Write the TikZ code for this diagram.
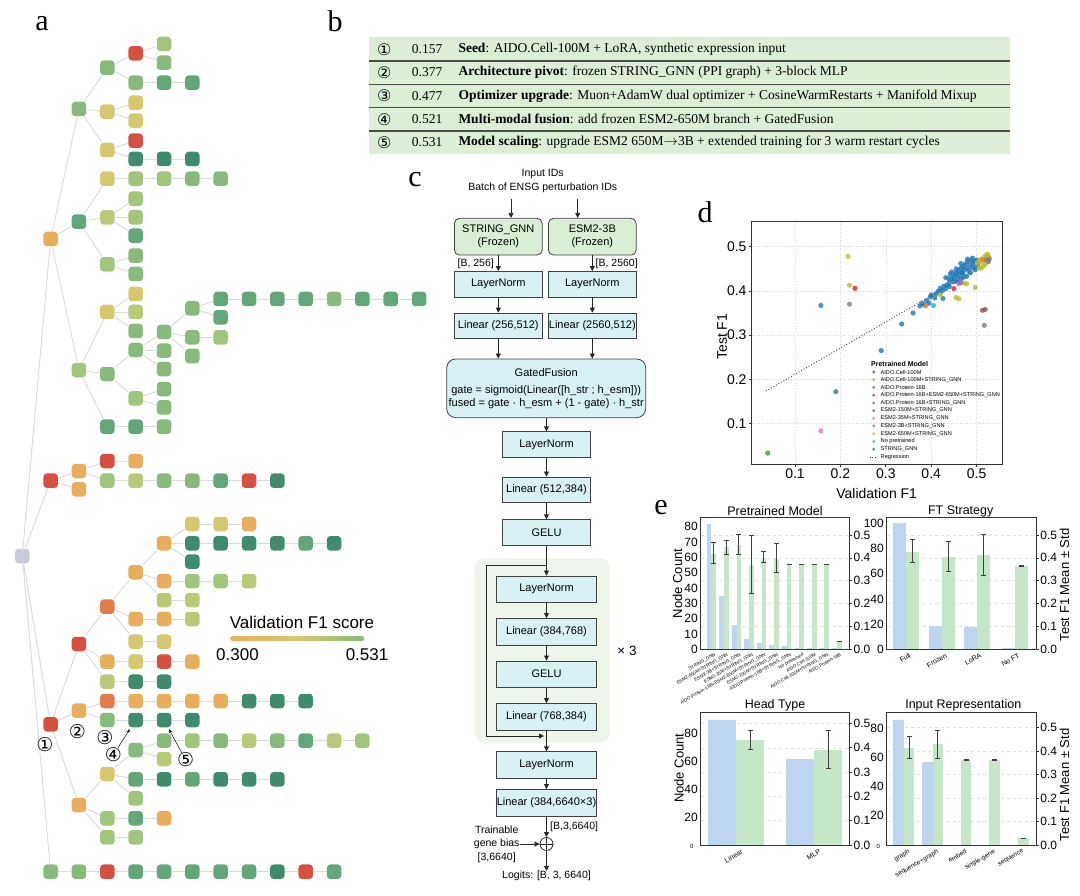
\documentclass[tikz,border=0pt]{standalone}
\usepackage{fontspec}
\setmainfont{Liberation Sans}
\newfontfamily\serifft{Liberation Serif}
\newfontfamily\cnum{DejaVu Sans}
\usetikzlibrary{arrows.meta,positioning}

% tree colours (validation F1 scale)
\definecolor{tR}{HTML}{D5503F}
\definecolor{tO}{HTML}{E07D4B}
\definecolor{tA}{HTML}{E8AE5C}
\definecolor{tY}{HTML}{D6C86E}
\definecolor{tV}{HTML}{B8C978}
\definecolor{tL}{HTML}{A0C67C}
\definecolor{tG}{HTML}{86BB7C}
\definecolor{tM}{HTML}{62A777}
\definecolor{tD}{HTML}{3E8C6D}
\definecolor{rootgray}{HTML}{C9CBDA}
\definecolor{edgegray}{HTML}{D9D9DF}
% panel colours
\definecolor{tablegreen}{HTML}{DCEFD5}
\definecolor{boxcyan}{HTML}{D8F1F4}
\definecolor{boxgreen}{HTML}{D8EFD3}
\definecolor{blockgreen}{HTML}{EDF6E9}
\definecolor{barblue}{HTML}{BDD5EE}
\definecolor{bargreen}{HTML}{C6E6C8}
% scatter colours
\definecolor{tabblue}{HTML}{1F77B4}
\definecolor{taborange}{HTML}{FF7F0E}
\definecolor{tabgreen}{HTML}{2CA02C}
\definecolor{tabred}{HTML}{D62728}
\definecolor{tabpurple}{HTML}{9467BD}
\definecolor{tabbrown}{HTML}{8C564B}
\definecolor{tabpink}{HTML}{E377C2}
\definecolor{tabgray}{HTML}{7F7F7F}
\definecolor{tabolive}{HTML}{BCBD22}
\definecolor{tabcyan}{HTML}{17BECF}

\pgfdeclarehorizontalshading{fonebar}{100bp}{color(0bp)=(tR); color(25bp)=(tA); color(50bp)=(tY); color(75bp)=(tG); color(100bp)=(tD)}

\tikzset{
tn/.style={rectangle, rounded corners=3.5pt, minimum size=14.5pt, inner sep=0pt}, % tree node
te/.style={draw=edgegray, line width=0.9pt}, % tree edge
fc/.style={draw=black!75, line width=0.8pt, fill=boxcyan, minimum width=87.7pt, minimum height=25.5pt, inner sep=0pt, font=\fontsize{11}{13}\selectfont}, % flow box
fcw/.style={fc, minimum width=99.7pt, minimum height=26.5pt}, % wide flow box
fcg/.style={fc, fill=boxgreen, rounded corners=5pt, minimum height=36.7pt, align=center}, % frozen encoder
arr/.style={-{Triangle[length=5pt,width=5pt]}, line width=0.8pt, black!85},
lab/.style={font=\fontsize{10.5}{13}\selectfont},
frm/.style={draw=black!80, line width=0.9pt},
grd/.style={draw=black!12, line width=0.5pt, dashed},
errb/.style={draw=black!75, line width=1pt},
tick/.style={font=\fontsize{12}{13}\selectfont, inner sep=1pt},
ttl/.style={font=\fontsize{12.5}{14}\selectfont},
axl/.style={font=\fontsize{13}{14}\selectfont, rotate=90},
pnl/.style={font=\serifft\fontsize{30}{30}\selectfont},
}

% tree node: name, parent, depth, y, colour
\newcommand{\tn}[5]{\node[tn, fill=#5] (#1) at ({22.3+28.34*#3},#4) {};
  \draw[te] (#2) -- (#1);}
% chain of tree nodes: name, parent, depth, y, colours
\newcommand{\tch}[5]{\foreach \tc [count=\ti from 0] in {#5}{%
  \node[tn, fill=\tc] (#1-\ti) at ({22.3+28.34*(#3+\ti)},#4) {};
  \ifnum\ti=0\relax \draw[te] (#2) -- (#1-0);
  \else \pgfmathtruncatemacro\tj{\ti-1}\draw[te] (#1-\tj) -- (#1-\ti); \fi}}
% error bar: x, base y, scale, low, high
\newcommand{\eb}[5]{\draw[errb] (#1,{#2-#3*#4}) -- (#1,{#2-#3*#5})
  ({#1-2.5},{#2-#3*#4}) -- ({#1+2.5},{#2-#3*#4}) ({#1-2.5},{#2-#3*#5}) -- ({#1+2.5},{#2-#3*#5});}

\begin{document}
\begin{tikzpicture}[x=1pt, y=-1pt]
\useasboundingbox (0,0) rectangle (1080,896);
\fill[white] (0,0) rectangle (1080,896);

% panel labels
\node[pnl] (la) at (42,24) {a};
\node[pnl] (lb) at (335,21) {b};
\node[pnl] (lc) at (415,180) {c};
\node[pnl] (ld) at (705,212) {d};
\node[pnl] (le) at (661,508) {e};

% ---------- a: search tree ----------
\node[tn, fill=rootgray] (root) at (22.3,556) {};
\tn{a}{root}{1}{239}{tA}
\tn{a1}{a}{2}{109}{tG}
\tn{a1a}{a1}{3}{67.7}{tG}
\tn{a1a1}{a1a}{4}{53.3}{tR}
\tch{a1a1x}{a1a1}{5}{44}{tL}
\tch{a1a1y}{a1a1}{5}{62.7}{tG}
\tch{a1a2}{a1a}{4}{82.7}{tG,tM,tM}
\tn{a1b}{a1}{3}{111.7}{tY}
\tch{a1b1}{a1b}{4}{102.7}{tY}
\tch{a1b2}{a1b}{4}{120.7}{tY}
\tn{a1c}{a1}{3}{150}{tY}
\tch{a1c1}{a1c}{4}{140.7}{tR}
\tch{a1c2}{a1c}{4}{159}{tD,tD,tD}
\tn{a2}{a}{2}{221.7}{tM}
\tch{a2a}{a2}{3}{178.7}{tY,tL,tL,tG,tG}
\tn{a2b}{a2}{3}{217.3}{tV}
\tch{a2b1}{a2b}{4}{198.7}{tL}
\tch{a2b2}{a2b}{4}{217.3}{tL}
\tch{a2b3}{a2b}{4}{235.7}{tM}
\tn{a2c}{a2}{3}{264.3}{tL}
\tch{a2c1}{a2c}{4}{255.7}{tG}
\tch{a2c2}{a2c}{4}{274}{tG}
\tn{a3}{a}{2}{370}{tL}
\tn{a3a}{a3}{3}{312}{tY}
\tch{a3a1}{a3a}{4}{294}{tY}
\tch{a3a2}{a3a}{4}{312}{tV}
\tch{a3a3}{a3a}{4}{331}{tG}
\tn{a3b}{a3}{3}{374}{tG}
\tn{a3b1}{a3b}{4}{350}{tG}
\tn{a3b1a}{a3b1}{5}{332}{tG}
\tn{a3b1a1}{a3b1a}{6}{308.3}{tG}
\tch{a3b1a1x}{a3b1a1}{7}{299}{tM,tM,tM,tM,tG,tM,tM,tM}
\tch{a3b1a1y}{a3b1a1}{7}{317.3}{tM}
\tch{a3b1a2}{a3b1a}{6}{337.3}{tG,tL}
\tch{a3b1a3}{a3b1a}{6}{356}{tG}
\tch{a3b1b}{a3b1}{5}{350.7}{tG}
\tch{a3b1c}{a3b1}{5}{369}{tG}
\tn{a3b2}{a3b}{4}{398.3}{tL}
\tch{a3b2a}{a3b2}{5}{389}{tG}
\tch{a3b2b}{a3b2}{5}{407.3}{tG}
\tch{a3c}{a3}{3}{426.7}{tM,tM,tG}
\tn{b}{root}{1}{480.7}{tR}
\tn{b1}{b}{2}{471}{tA}
\tch{b1a}{b1}{3}{461}{tR,tA}
\tch{b1b}{b1}{3}{480.7}{tL,tV,tG,tG,tM,tR,tD}
\tch{b2}{b}{2}{489.3}{tA}
\tn{c}{root}{1}{724.3}{tR}
\tn{c1}{c}{2}{644}{tR}
\tn{c1a}{c1}{3}{606.7}{tO}
\tn{c1a1}{c1a}{4}{572.3}{tA}
\tn{c1a1a}{c1a1}{5}{543.3}{tA}
\tch{c1a1a1}{c1a1a}{6}{524}{tY,tY,tA}
\tch{c1a1a2}{c1a1a}{6}{543.3}{tD,tD,tD,tD,tM,tD}
\tch{c1a1a3}{c1a1a}{6}{561.7}{tD}
\tch{c1a1b}{c1a1}{5}{581}{tA,tL,tL,tV}
\tch{c1a1c}{c1a1}{5}{600}{tV,tV}
\tch{c1a2}{c1a}{4}{619}{tA,tA,tV}
\tch{c1a3}{c1a}{4}{641.7}{tY,tY}
\tch{c1b}{c1}{3}{661.7}{tA,tY,tR,tA}
\tch{c1c}{c1}{3}{681.7}{tV,tD,tD}
\tn{c2}{c}{2}{710.7}{tA}
\tch{c2a}{c2}{3}{701}{tO,tA,tA,tA,tA,tD,tD,tD}
\tch{c2b}{c2}{3}{720}{tG,tD,tD,tD}
\tn{c3}{c}{2}{805}{tA}
\tn{c3a}{c3}{3}{774}{tY}
\tn{c3a1}{c3a}{4}{750}{tG}
\tch{c3a1a}{c3a1}{5}{740.7}{tG,tL,tG,tV,tG,tM,tV,tL}
\tch{c3a1b}{c3a1}{5}{759}{tV}
\tch{c3a2}{c3a}{4}{779.3}{tM,tD,tM,tD,tD,tD}
\tch{c3a3}{c3a}{4}{798.3}{tL}
\tch{c3b}{c3}{3}{818.3}{tL,tM,tA}
\tch{c3c}{c3}{3}{837.3}{tL,tL}
\tch{d}{root}{1}{871.7}{tG,tG,tR,tM,tM,tM,tM,tM,tD,tR,tM}

% milestones
\node[font=\cnum\fontsize{19}{19}\selectfont, inner sep=0pt] (n1) at (45,744.3) {①};
\node[font=\cnum\fontsize{19}{19}\selectfont, inner sep=0pt] (n2) at (77.3,731.7) {②};
\node[font=\cnum\fontsize{19}{19}\selectfont, inner sep=0pt] (n3) at (105,737.7) {③};
\node[font=\cnum\fontsize{19}{19}\selectfont, inner sep=0pt] (n4) at (113.3,755) {④};
\node[font=\cnum\fontsize{19}{19}\selectfont, inner sep=0pt] (n5) at (185.7,760) {⑤};
\draw[-{Stealth[length=4pt,width=3pt]}, line width=0.5pt, shorten >=2pt] (n4) -- (c2b-1);
\draw[-{Stealth[length=4pt,width=3pt]}, line width=0.5pt, shorten >=2pt] (n5) -- (c2b-2);

% colour bar
\node[font=\fontsize{17}{18}\selectfont] (cbt) at (302,622.5) {Validation F1 score};
\shade[shading=fonebar, rounded corners=2pt] (230.7,636) rectangle (364,641);
\node[anchor=west, inner sep=0pt, font=\fontsize{17}{18}\selectfont] (cbl) at (216,654.5) {0.300};
\node[anchor=east, inner sep=0pt, font=\fontsize{17}{18}\selectfont] (cbr) at (388.5,654.5) {0.531};

% ---------- b: milestone table ----------
\fill[tablegreen] (369.3,37.3) rectangle (1010,154.3);
\foreach \yy in {61,84.3,107.7,131}
  \draw[black!70, line width=1.1pt] (369.3,\yy) -- (1010,\yy);
\foreach \cn/\val/\hd/\tx [count=\r from 0] in {
  ①/0.157/Seed/{AIDO.Cell-100M + LoRA, synthetic expression input},
  ②/0.377/Architecture pivot/{frozen STRING\_GNN (PPI graph) + 3-block MLP},
  ③/0.477/Optimizer upgrade/{Muon+AdamW dual optimizer + CosineWarmRestarts + Manifold Mixup},
  ④/0.521/Multi-modal fusion/{add frozen ESM2-650M branch + GatedFusion},
  ⑤/0.531/Model scaling/{upgrade ESM2 650M$\rightarrow$3B + extended training for 3 warm restart cycles}}{
  \node[font=\cnum\fontsize{16}{16}\selectfont, inner sep=0pt] (bn\r) at (384.3,{49.2+23.35*\r}) {\cn};
  \node[anchor=west, inner sep=0pt, font=\serifft\fontsize{13.5}{15}\selectfont] (bv\r) at (411.7,{49.2+23.35*\r}) {\val};
  \node[anchor=west, inner sep=0pt, font=\serifft\fontsize{13.5}{15}\selectfont] (bt\r) at (458.3,{49.2+23.35*\r}) {\textbf{\hd}: \tx};
}

% ---------- c: model architecture ----------
\node[lab, align=center, font=\fontsize{10.5}{14.3}\selectfont] (inp) at (542.7,181.2) {Input IDs\\Batch of ENSG perturbation IDs};
\node[fcg] (sgnn) at (498.3,236.7) {STRING\_GNN\\(Frozen)};
\node[fcg] (esm) at (592.3,236.7) {ESM2-3B\\(Frozen)};
\coordinate (i1) at (511,199.5);
\coordinate (i2) at (577.7,199.5);
\draw[arr] (i1) -- (i1 |- sgnn.north);
\draw[arr] (i2) -- (i2 |- esm.north);
\node[fc] (ln1) at (498.3,284.2) {LayerNorm};
\node[fc] (ln2) at (592.3,284.2) {LayerNorm};
\node[fc] (lin1) at (498.3,325.8) {Linear (256,512)};
\node[fc] (lin2) at (592.3,325.8) {Linear (2560,512)};
\node[lab, anchor=east, inner sep=0pt] (d1) at (494,264) {[B, 256]};
\node[lab, anchor=west, inner sep=0pt] (d2) at (595.5,264) {[B, 2560]};
\draw[arr] (sgnn) -- (ln1);
\draw[arr] (esm) -- (ln2);
\draw[arr] (ln1) -- (lin1);
\draw[arr] (ln2) -- (lin2);
\node[fc, minimum width=199pt, minimum height=58.7pt, rounded corners=9pt, align=center] (gate) at (546.2,388.3)
  {GatedFusion\\[4pt]gate = sigmoid(Linear([h\_str ; h\_esm]))\\fused = gate · h\_esm + (1 - gate) · h\_str};
\draw[arr] (lin1) -- (lin1 |- gate.north);
\draw[arr] (lin2) -- (lin2 |- gate.north);
\node[fc] (ln3) at (546.5,444.5) {LayerNorm};
\node[fc] (lin3) at (546.5,489.7) {Linear (512,384)};
\node[fc] (gelu1) at (546.5,532.5) {GELU};
\draw[arr] (gate.south -| ln3) -- (ln3);
\draw[arr] (ln3) -- (lin3);
\draw[arr] (lin3) -- (gelu1);
% residual block
\fill[blockgreen, rounded corners=10pt] (475,558.3) rectangle (610,742.7);
\node[fcw] (ln4) at (546.5,589.2) {LayerNorm};
\node[fcw] (lin4) at (546.5,631.7) {Linear (384,768)};
\node[fcw] (gelu2) at (546.5,674.2) {GELU};
\node[fcw] (lin5) at (546.5,716.7) {Linear (768,384)};
\coordinate (skA) at (546.5,565);
\coordinate (skB) at (544,736);
\draw[arr] (gelu1) -- (ln4);
\draw[arr] (ln4) -- (lin4);
\draw[arr] (lin4) -- (gelu2);
\draw[arr] (gelu2) -- (lin5);
\draw[arr] (skA) -- ++(-60.5,0) |- (skB);
\node[font=\fontsize{13.5}{14}\selectfont] (rep) at (627,651) {× 3};
\node[fcw] (ln5) at (546.5,765) {LayerNorm};
\node[fcw] (lin6) at (546.5,802.7) {Linear (384,6640×3)};
\draw[arr] (lin5) -- (ln5);
\draw[arr] (ln5) -- (lin6);
\node[draw=black!85, line width=0.8pt, circle, minimum size=13pt, inner sep=0pt] (plus) at (546.5,844) {};
\draw[line width=0.8pt, black!85] (plus.north) -- (plus.south) (plus.west) -- (plus.east);
\draw[arr] (lin6) -- (plus);
\node[lab, anchor=west, inner sep=0pt] (d3) at (550,826.5) {[B,3,6640]};
\node[lab, align=center, font=\fontsize{10.5}{13.3}\selectfont, inner sep=0pt] (bias) at (496.7,844) {Trainable\\gene bias\\{}[3,6640]};
\draw[arr] (bias) -- (plus);
\node[lab, inner sep=0pt] (logit) at (546.5,876) {Logits: [B, 3, 6640]};
\draw[arr] (plus) -- (logit);

% ---------- d: validation vs test ----------
\begin{scope}[shift={(749.6,467.7)}, x=454pt, y=442pt]
\foreach \g in {0.1,0.2,0.3,0.4,0.5}{
  \draw[black!15, dotted, line width=0.6pt] (\g,0.0084) -- (\g,0.5566);
  \draw[black!15, dotted, line width=0.6pt] (0.0046,\g) -- (0.5566,\g);
  \draw[black!80, line width=0.7pt] (\g,0.0084) -- ++(0,-3pt);
  \draw[black!80, line width=0.7pt] (0.0046,\g) -- ++(-3pt,0);
}
\foreach \g [count=\k] in {0.1,0.2,0.3,0.4,0.5}{
  \node[tick, font=\fontsize{14}{15}\selectfont, anchor=north, yshift=-3.5pt] (dx\k) at (\g,0.0084) {\g};
  \node[tick, font=\fontsize{14}{15}\selectfont, anchor=east, xshift=-4pt] (dy\k) at (0.0046,\g) {\g};
}
\draw[black!80, dotted, line width=0.9pt] (0.036,0.1735) -- (0.53,0.466);
\foreach \p in {(0.157,0.367),(0.19,0.172),(0.29,0.265),(0.335,0.325),(0.36,0.35),(0.375,0.366),(0.38,0.372),(0.385,0.368),(0.39,0.378),(0.395,0.372),(0.398,0.386),(0.40,0.391),(0.408,0.384),(0.41,0.393),(0.415,0.399),(0.42,0.396),(0.42,0.406),(0.425,0.401),(0.428,0.411),(0.432,0.405),(0.435,0.413),(0.438,0.428),(0.44,0.419),(0.445,0.426),(0.448,0.431),(0.45,0.421),(0.452,0.436),(0.455,0.441),(0.458,0.431),(0.46,0.446),(0.462,0.438),(0.465,0.451),(0.468,0.441),(0.47,0.456),(0.472,0.448),(0.475,0.461),(0.478,0.452),(0.48,0.466),(0.482,0.446),(0.485,0.458),(0.488,0.469),(0.49,0.452),(0.492,0.462),(0.495,0.467),(0.498,0.455),(0.50,0.470),(0.503,0.461),(0.478,0.433),(0.466,0.428),(0.455,0.423),(0.442,0.438),(0.426,0.383),(0.432,0.430),(0.471,0.431),(0.486,0.441),(0.491,0.474),(0.46,0.419),(0.445,0.443),(0.465,0.462),(0.48,0.472),(0.455,0.45),(0.47,0.44),(0.497,0.448),(0.44,0.41)}
  \fill[tabblue, opacity=.8] \p circle (2.6pt);
\foreach \p in {(0.217,0.478),(0.22,0.413),(0.42,0.391),(0.455,0.385),(0.461,0.382),(0.497,0.408),(0.472,0.418),(0.478,0.416),(0.51,0.451),(0.512,0.466),(0.515,0.47),(0.518,0.476),(0.52,0.479),(0.522,0.472),(0.525,0.481),(0.52,0.461),(0.506,0.452),(0.515,0.456),(0.525,0.468),(0.501,0.463),(0.508,0.47),(0.527,0.476),(0.523,0.483)}
  \fill[tabolive, opacity=.8] \p circle (2.6pt);
\foreach \p in {(0.22,0.37),(0.517,0.322),(0.526,0.466),(0.52,0.47),(0.528,0.472)}
  \fill[tabgray, opacity=.8] \p circle (2.6pt);
\foreach \p in {(0.232,0.406),(0.45,0.405)}
  \fill[tabred, opacity=.8] \p circle (2.6pt);
\foreach \p in {(0.513,0.356),(0.519,0.358)}
  \fill[tabbrown, opacity=.8] \p circle (2.6pt);
\foreach \p in {(0.157,0.083),(0.461,0.416)}
  \fill[tabpink, opacity=.8] \p circle (2.6pt);
\fill[tabgreen, opacity=.8] (0.04,0.033) circle (2.6pt);
\foreach \p in {(0.388,0.366),(0.512,0.472)}
  \fill[taborange, opacity=.8] \p circle (2.6pt);
\fill[tabcyan, opacity=.8] (0.405,0.367) circle (2.6pt);
\fill[tabpurple, opacity=.8] (0.465,0.419) circle (2.6pt);
\draw[frm] (0.0046,0.0084) rectangle (0.5566,0.5566);
\end{scope}
\node[font=\fontsize{14}{15}\selectfont] (dxl) at (876.7,493) {Validation F1};
\node[font=\fontsize{14}{15}\selectfont, rotate=90] (dyl) at (722,336.7) {Test F1};
% legend
\node[anchor=west, inner sep=0pt, font=\bfseries\fontsize{7}{8}\selectfont] (lgt) at (871,364) {Pretrained Model};
\foreach \lc/\lt [count=\k from 0] in {tabblue/AIDO.Cell-100M, taborange/AIDO.Cell-100M+STRING\_GNN, tabgreen/AIDO.Protein-16B,
  tabred/AIDO.Protein-16B+ESM2-650M+STRING\_GNN, tabpurple/AIDO.Protein-16B+STRING\_GNN, tabbrown/ESM2-150M+STRING\_GNN,
  tabpink/ESM2-35M+STRING\_GNN, tabgray/ESM2-3B+STRING\_GNN, tabolive/ESM2-650M+STRING\_GNN, tabcyan/No pretrained, tabblue/STRING\_GNN}{
  \fill[\lc, opacity=.8] (873.7,{372+7.72*\k}) circle (1.6pt);
  \node[anchor=west, inner sep=0pt, font=\fontsize{5.6}{6}\selectfont] (lg\k) at (880.5,{372+7.72*\k}) {\lt};
}
\draw[black!80, dotted, line width=0.8pt] (869.5,457) -- (877.5,457);
\node[anchor=west, inner sep=0pt, font=\fontsize{5.6}{6}\selectfont] (lgr) at (880.5,457) {Regression};

% ---------- e: bar charts ----------
% Pretrained Model
\foreach \v in {0.1,0.2,0.3,0.4,0.5} \draw[grd] (700.7,{649.3-228.6*\v}) -- (849.3,{649.3-228.6*\v});
\foreach \i/\bn/\bm in {0/82/0.417,1/35/0.449,2/16/0.456,3/7/0.369,4/4/0.398,5/3/0.396,6/2/0.369,7/1/0.369,8/1/0.369,9/1/0.369,10/1/0.033}{
  \pgfmathsetmacro\xc{711.4+12.55*\i}
  \fill[barblue] ({\xc-4.7},{649.3-1.533*\bn}) rectangle (\xc,649.3);
  \fill[bargreen] (\xc,{649.3-228.6*\bm}) rectangle ({\xc+4.7},649.3);
}
\foreach \i/\lo/\hi in {0/0.376/0.468,1/0.416/0.478,2/0.413/0.504,3/0.242/0.500,4/0.379/0.430,5/0.335/0.461,6/0.369/0.369,7/0.369/0.369,8/0.369/0.369,9/0.369/0.369,10/0.033/0.033}{
  \pgfmathsetmacro\xe{711.4+12.55*\i+2.35}
  \eb{\xe}{649.3}{228.6}{\lo}{\hi}
}
\draw[frm] (700.7,517.7) rectangle (849.3,649.3);
\node[ttl] (e1t) at (775,511) {Pretrained Model};
\foreach \c [count=\k] in {0,10,20,30,40,50,60,70,80}
  \node[tick, anchor=east] (e1l\k) at (699,{649.3-1.533*\c}) {\c};
\foreach \v [count=\k] in {0.0,0.1,0.2,0.3,0.4,0.5}{
  \draw[black!80, line width=0.7pt] (849.3,{649.3-228.6*\v}) -- (852.3,{649.3-228.6*\v});
  \node[tick, anchor=west] (e1r\k) at (852.5,{649.3-228.6*\v}) {\v};
}
\node[axl] (e1y) at (677.5,583.5) {Node Count};
\foreach \lt [count=\k from 0] in {STRING\_GNN, ESM2-650M+STRING\_GNN, ESM2-3B+STRING\_GNN, ESM2-35M+STRING\_GNN,
  AIDO.Protein-16B+ESM2-650M+STRING\_GNN, ESM2-150M+STRING\_GNN, AIDO.Protein-16B+STRING\_GNN, No pretrained,
  AIDO.Cell-100M, AIDO.Cell-100M+STRING\_GNN, AIDO.Protein-16B}
  \node[rotate=30, anchor=north east, inner sep=0.3pt, font=\fontsize{4.6}{5}\selectfont] (e1x\k) at ({711.4+12.55*\k+3},652) {\lt};

% FT Strategy
\foreach \v in {0.1,0.2,0.3,0.4,0.5} \draw[grd] (886.7,{649.3-228.6*\v}) -- (1036,{649.3-228.6*\v});
\foreach \xc/\bt/\bm in {906/523.3/0.427,942.3/626/0.405,976.7/626.7/0.413,1015/647.5/0.364}{
  \fill[barblue] ({\xc-13},\bt) rectangle (\xc,649.3);
  \fill[bargreen] (\xc,{649.3-228.6*\bm}) rectangle ({\xc+13},649.3);
}
\foreach \xc/\lo/\hi in {906/0.378/0.481,942.3/0.339/0.471,976.7/0.325/0.504,1015/0.363/0.365}
  \eb{\xc+6.5}{649.3}{228.6}{\lo}{\hi}
\draw[frm] (886.7,517.7) rectangle (1036,649.3);
\node[ttl] (e2t) at (960.7,511) {FT Strategy};
\foreach \c [count=\k] in {0,20,40,60,80,100}
  \node[tick, anchor=east] (e2l\k) at (885,{649.3-1.26*\c}) {\c};
\foreach \v [count=\k] in {0.0,0.1,0.2,0.3,0.4,0.5}{
  \draw[black!80, line width=0.7pt] (1036,{649.3-228.6*\v}) -- (1039,{649.3-228.6*\v});
  \node[tick, anchor=west] (e2r\k) at (1039.2,{649.3-228.6*\v}) {\v};
}
\node[axl] (e2y) at (1064.5,585) {Test F1 Mean ± Std};
\foreach \xc/\lt [count=\k] in {906/Full,942.3/Frozen,976.7/LoRA,1015/No FT}
  \node[rotate=30, anchor=north east, inner sep=0.5pt, font=\fontsize{7}{7}\selectfont] (e2x\k) at ({\xc+3},652) {\lt};

% Head Type
\foreach \v in {0.1,0.2,0.3,0.4,0.5} \draw[grd] (700.7,{845-243*\v}) -- (849.3,{845-243*\v});
\fill[barblue] (708.3,720) rectangle (736,845);
\fill[bargreen] (736,{845-243*0.433}) rectangle (764,845);
\fill[barblue] (786,758.7) rectangle (814,845);
\fill[bargreen] (814,{845-243*0.391}) rectangle (842.3,845);
\eb{750}{845}{243}{0.392}{0.470}
\eb{828}{845}{243}{0.313}{0.473}
\draw[frm] (700.7,712.7) rectangle (849.3,845);
\node[ttl] (e3t) at (775,705) {Head Type};
\foreach \c [count=\k] in {20,40,60,80}
  \node[tick, anchor=east] (e3l\k) at (699,{845-1.39*\c}) {\c};
\node[font=\fontsize{6}{6}\selectfont] (e3z) at (691.7,846) {0};
\foreach \v [count=\k] in {0.0,0.1,0.2,0.3,0.4,0.5}{
  \draw[black!80, line width=0.7pt] (849.3,{845-243*\v}) -- (852.3,{845-243*\v});
  \node[tick, anchor=west] (e3r\k) at (852.5,{845-243*\v}) {\v};
}
\node[axl] (e3y) at (679,768.3) {Node Count};
\node[rotate=30, anchor=north east, inner sep=0.5pt, font=\fontsize{7}{7}\selectfont] (e3x1) at (741,848) {Linear};
\node[rotate=30, anchor=north east, inner sep=0.5pt, font=\fontsize{7}{7}\selectfont] (e3x2) at (819,848) {MLP};

% Input Representation
\foreach \v in {0.1,0.2,0.3,0.4,0.5} \draw[grd] (886.7,{845-235*\v}) -- (1036,{845-235*\v});
\fill[barblue] (893.3,720) rectangle (904,845);
\fill[barblue] (922.3,762.3) rectangle (932.7,845);
\foreach \xc/\bm in {904/0.411,932.7/0.428,961/0.362,989.3/0.362,1018.3/0.0285}
  \fill[bargreen] (\xc,{845-235*\bm}) rectangle ({\xc+10.3},845);
\foreach \xc/\lo/\hi in {904/0.369/0.461,932.7/0.366/0.489,961/0.361/0.363,989.3/0.361/0.363,1018.3/0.028/0.029}
  \eb{\xc+5.2}{845}{235}{\lo}{\hi}
\draw[frm] (886.7,712.7) rectangle (1036,845);
\node[ttl] (e4t) at (963.3,705) {Input Representation};
\foreach \c [count=\k] in {20,40,60,80}
  \node[tick, anchor=east] (e4l\k) at (885,{845-1.46*\c}) {\c};
\node[font=\fontsize{6}{6}\selectfont] (e4z) at (878.3,846) {0};
\foreach \v [count=\k] in {0.0,0.1,0.2,0.3,0.4,0.5}{
  \draw[black!80, line width=0.7pt] (1036,{845-235*\v}) -- (1039,{845-235*\v});
  \node[tick, anchor=west] (e4r\k) at (1039.2,{845-235*\v}) {\v};
}
\node[axl] (e4y) at (1064.5,785) {Test F1 Mean ± Std};
\foreach \xc/\lt [count=\k] in {904/graph,932.7/sequence+graph,961/embed,989.3/single-gene,1018.3/sequence}
  \node[rotate=30, anchor=north east, inner sep=0.5pt, font=\fontsize{6.5}{7}\selectfont] (e4x\k) at ({\xc+4},848) {\lt};
\end{tikzpicture}
\end{document}
